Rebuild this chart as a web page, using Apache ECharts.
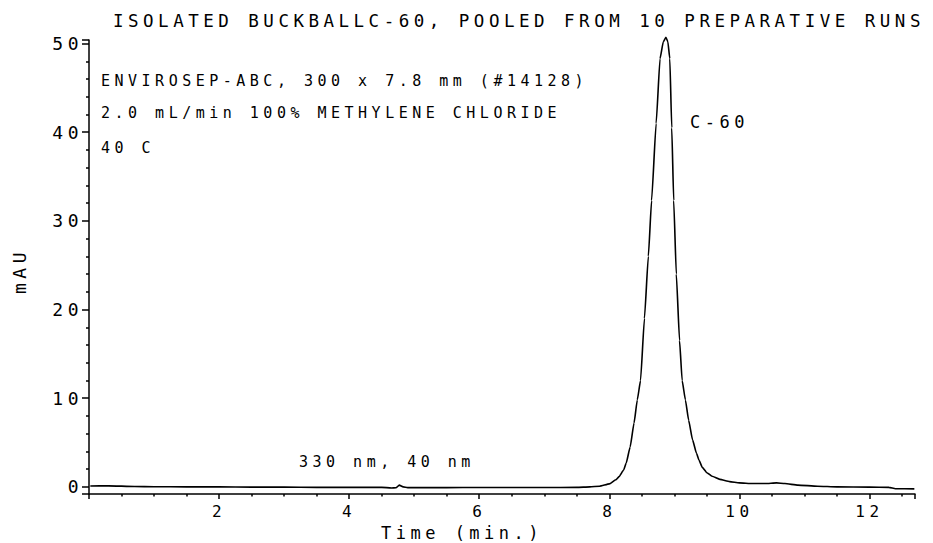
<!DOCTYPE html>
<html>
<head>
<meta charset="utf-8">
<script src="https://cdn.jsdelivr.net/npm/echarts@6/dist/echarts.min.js"></script>
<style>
  html, body { margin: 0; padding: 0; background: #fff; }
  #main { width: 933px; height: 543px; }
  /* plotter lettering is widely spaced */
  #main text { letter-spacing: 4.5px; }
</style>
</head>
<body>
<div id="main"></div>
<script>
// chromatogram trace
const timeMin = [
  0.02, 0.3, 0.7, 1.0, 1.5, 2.0, 2.5, 3.0, 3.5, 4.0, 4.5, 4.65, 4.72, 4.77, 4.83, 4.9,
  5.5, 6.0, 6.5, 7.0, 7.5, 7.7, 7.85, 8.0, 8.1, 8.15, 8.22, 8.26, 8.32, 8.38, 8.43,
  8.48, 8.54, 8.6, 8.65, 8.72, 8.78, 8.83, 8.87, 8.9, 8.93, 8.96, 8.99, 9.03, 9.08,
  9.12, 9.17, 9.22, 9.28, 9.34, 9.38, 9.43, 9.5, 9.58, 9.7, 9.85, 10.0, 10.2, 10.4,
  10.57, 10.7, 10.9, 11.2, 11.5, 12.0, 12.3, 12.4, 12.69
];
const absMAU = [
  0.1, 0.12, 0.05, 0.02, 0.0, 0.0, -0.03, -0.02, -0.05, -0.05, -0.05, -0.12, -0.1, 0.2, 0.0, -0.08,
  -0.08, -0.06, -0.07, -0.07, -0.05, 0.0, 0.08, 0.34, 0.8, 1.16, 1.9, 2.7, 4.5, 7.2, 9.8,
  12.0, 19.0, 26.0, 32.3, 41.0, 48.3, 50.2, 50.7, 50.2, 48.3, 40.5, 32.3, 24.0, 16.5,
  12.0, 9.8, 7.5, 5.3, 3.8, 3.0, 2.2, 1.6, 1.2, 0.85, 0.6, 0.45, 0.38, 0.38,
  0.45, 0.38, 0.2, 0.08, 0.0, -0.02, -0.05, -0.2, -0.22
];
const xTickLabels = [2, 4, 6, 8, 10, 12];
const yTickLabels = [0, 10, 20, 30, 40, 50];

const titleText = 'ISOLATED BUCKBALLC-60, POOLED FROM 10 PREPARATIVE RUNS';
const methodNotes = [
  'ENVIROSEP-ABC, 300 x 7.8 mm (#14128)',
  '2.0 mL/min 100% METHYLENE CHLORIDE',
  '40 C'
];
const peakName = 'C-60';
const detectorNote = '330 nm, 40 nm';
const xName = 'Time (min.)';
const yName = 'mAU';

const FONT = '"DejaVu Sans Mono", monospace';
const INK = '#000';

function txt(x, y, text, size, extra) {
  return Object.assign({
    type: 'text',
    x: x,
    y: y,
    style: {
      text: text,
      font: size + 'px ' + FONT,
      fill: INK,
      textVerticalAlign: 'middle'
    }
  }, extra || {});
}

const chart = echarts.init(document.getElementById('main'), null, { renderer: 'svg' });

const option = {
  animation: false,
  backgroundColor: '#fff',
  grid: { left: 89, right: 18, top: 40, bottom: 49 },
  xAxis: {
    type: 'value',
    min: 0,
    max: 12.7,
    interval: 2,
    splitLine: { show: false },
    axisLine: { onZero: false, lineStyle: { color: INK, width: 1.5 } },
    axisTick: { length: 5, lineStyle: { color: INK, width: 1.5 } },
    minorTick: { show: true, splitNumber: 4, length: 2.5, lineStyle: { color: INK, width: 1.5 } },
    axisLabel: {
      color: INK,
      fontFamily: FONT,
      fontSize: 16,
      margin: 9,
      showMinLabel: false,
      showMaxLabel: false,
      formatter: function (v) { return xTickLabels.indexOf(v) >= 0 ? String(v) : ''; }
    }
  },
  yAxis: {
    type: 'value',
    min: -0.8,
    max: 50.4,
    splitNumber: 5,
    splitLine: { show: false },
    axisLine: { onZero: false, lineStyle: { color: INK, width: 1.5 } },
    axisTick: { length: 7, lineStyle: { color: INK, width: 1.5 } },
    minorTick: { show: true, splitNumber: 5, length: 3, lineStyle: { color: INK, width: 1.5 } },
    axisLabel: {
      color: INK,
      fontFamily: FONT,
      fontSize: 18,
      margin: 6,
      showMinLabel: false,
      showMaxLabel: false,
      formatter: function (v) { return yTickLabels.indexOf(v) >= 0 ? String(v) : ''; }
    }
  },
  series: [
    {
      type: 'line',
      data: timeMin.map(function (t, i) { return [t, absMAU[i]]; }),
      showSymbol: false,
      smooth: 0.15,
      smoothMonotone: 'x',
      clip: false,
      lineStyle: { color: INK, width: 1.6 }
    }
  ],
  graphic: [
    txt(113, 21, titleText, 17.5),
    txt(101, 81, methodNotes[0], 15),
    txt(101, 113, methodNotes[1], 15),
    txt(101, 148, methodNotes[2], 15),
    txt(690, 122, peakName, 17),
    txt(299, 462, detectorNote, 15),
    txt(462, 533, xName, 17),
    txt(19, 271, yName, 18, { rotation: Math.PI / 2 })
  ]
};
option.graphic[6].style.textAlign = 'center';
option.graphic[7].style.textAlign = 'center';

chart.setOption(option);
window.addEventListener('resize', function () {
  chart.resize();
});
</script>
</body>
</html>
